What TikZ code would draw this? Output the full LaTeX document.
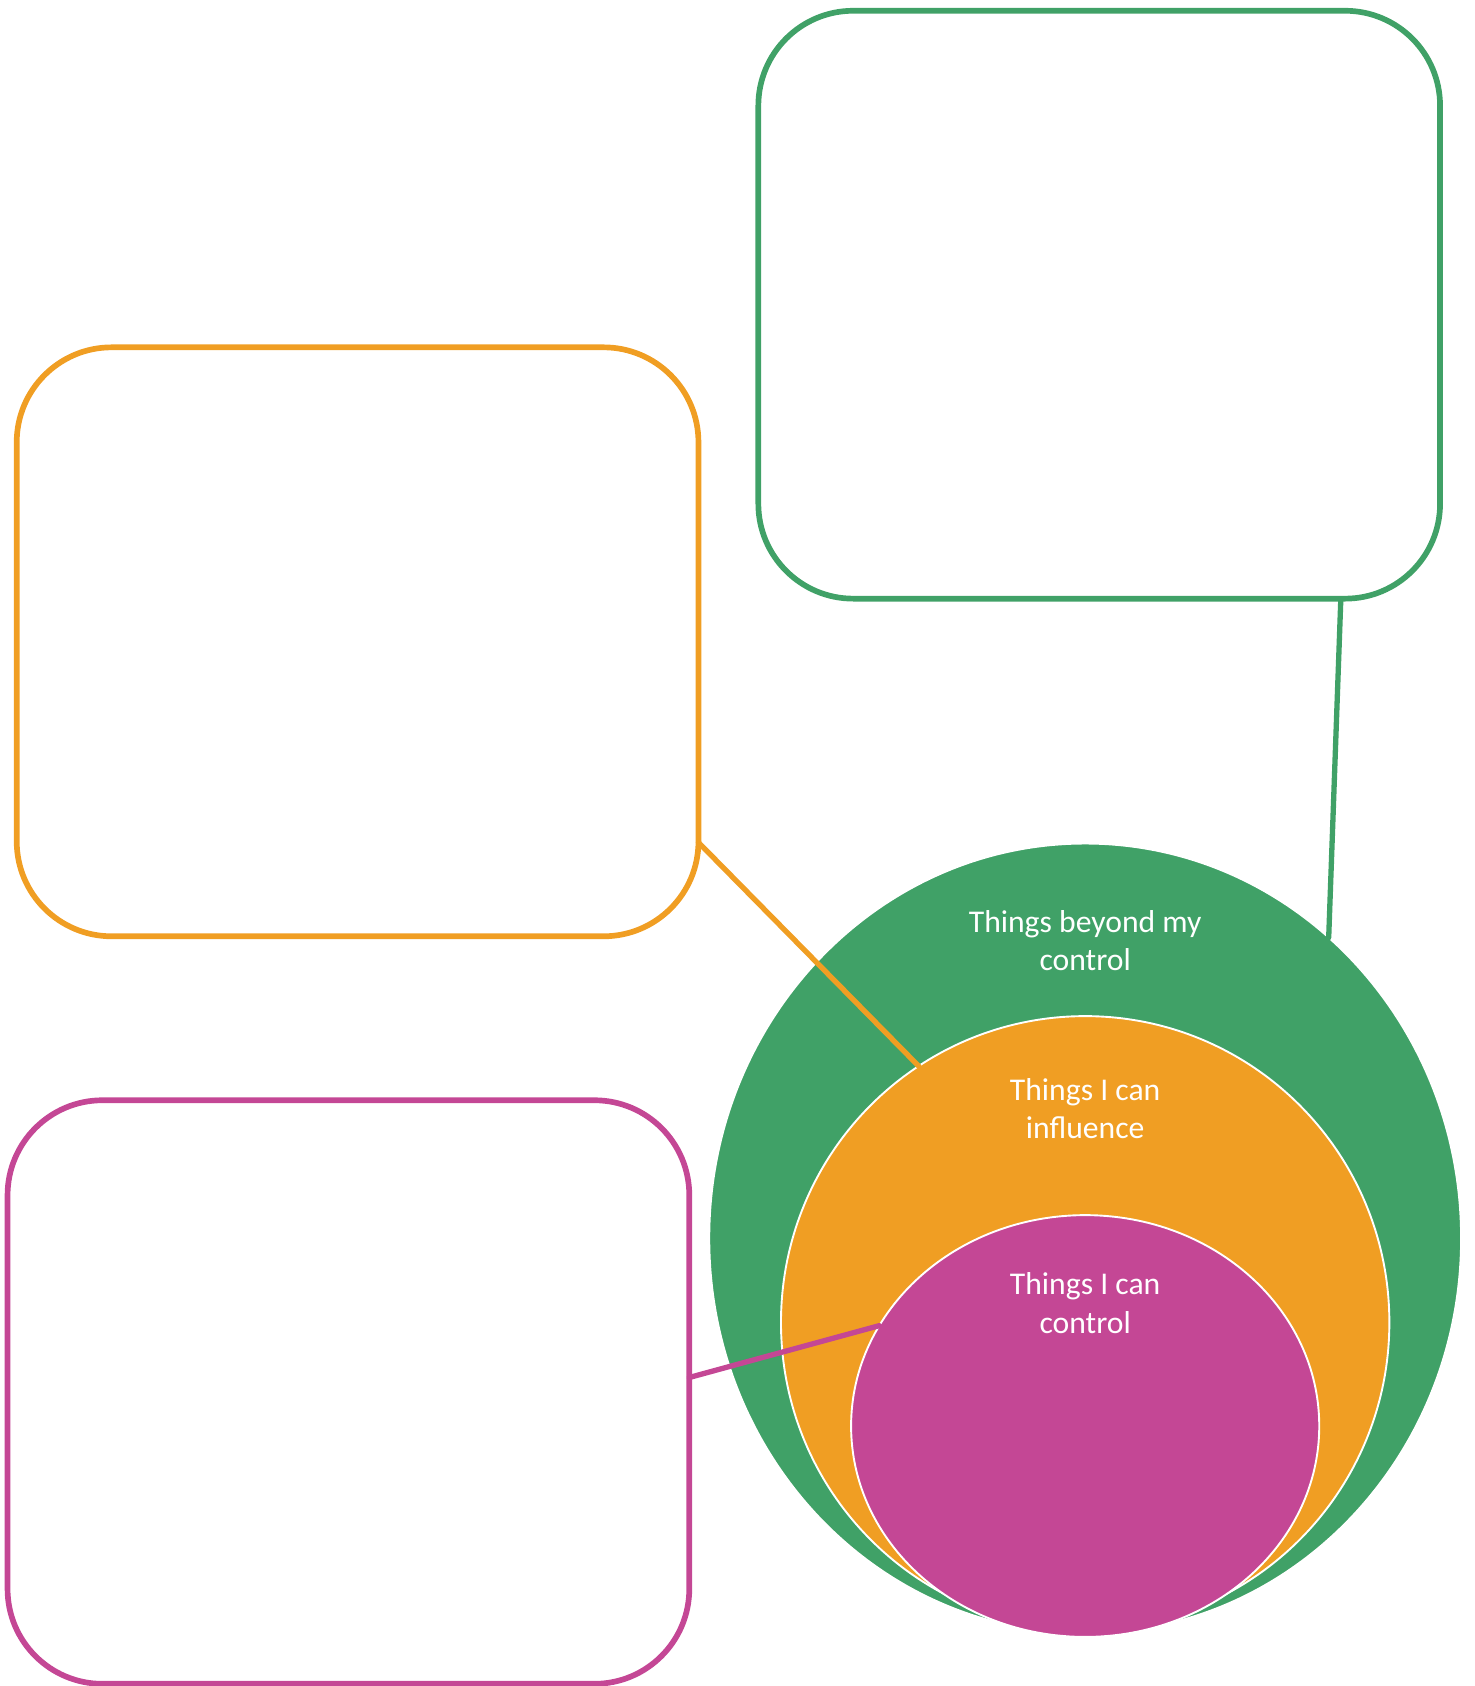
\documentclass[tikz,border=0pt]{standalone}
\usepackage{fontspec}
\setmainfont{Carlito}
\usetikzlibrary{shapes.geometric}
\definecolor{circgreen}{RGB}{64,161,103}
\definecolor{circorange}{RGB}{240,158,35}
\definecolor{circpink}{RGB}{196,71,149}

\begin{document}
\begin{tikzpicture}[line cap=round,line join=round,x=1cm,y=1cm,
        notebox/.style={draw,line width=3pt,rounded corners=1.76cm,inner sep=0pt,outer sep=0pt,minimum width=12.64cm,minimum height=10.9cm},
        zone/.style={ellipse,draw=white,line width=1pt,inner sep=0pt,outer sep=0pt},
        zonetext/.style={text=white,align=center,inner sep=0pt,font=\fontsize{16.7}{20.4}\selectfont},
        link/.style={line width=2.8pt}]
        \useasboundingbox (0,0) rectangle (27.33,31.26);
        % boxes to write in
        \node[notebox,draw=circgreen] (beyondbox) at (20.38,25.61) {};
        \node[notebox,draw=circorange,minimum height=10.92cm] (influencebox) at (6.63,19.36) {};
        \node[notebox,draw=circpink,minimum height=10.82cm] (controlbox) at (6.46,5.45) {};
        % circles of control
        \node[zone,fill=circgreen,minimum width=13.94cm,minimum height=14.64cm] (beyond) at (20.12,8.30) {};
        \node[zone,fill=circorange,minimum width=11.28cm,minimum height=11.36cm] (influence) at (20.12,6.74) {};
        \node[zone,fill=circpink,minimum width=8.68cm,minimum height=7.82cm] (control) at (20.12,4.82) {};
        \node[zonetext] (beyondtext) at (20.12,13.82) {Things beyond my\\control};
        \node[zonetext] (influencetext) at (20.12,10.705) {Things I can\\influence};
        \node[zonetext] (controltext) at (20.12,7.104) {Things I can\\control};
        % connectors
        \draw[link,circgreen] ([xshift=4.48cm]beyondbox.south) -- (beyond.51.4);
        \draw[link,circorange] ([yshift=-3.72cm]influencebox.east) -- (influence.123.2);
        \draw[link,circpink] ([yshift=0.27cm]controlbox.east) -- (control.154.6);
    \end{tikzpicture}
\end{document}
